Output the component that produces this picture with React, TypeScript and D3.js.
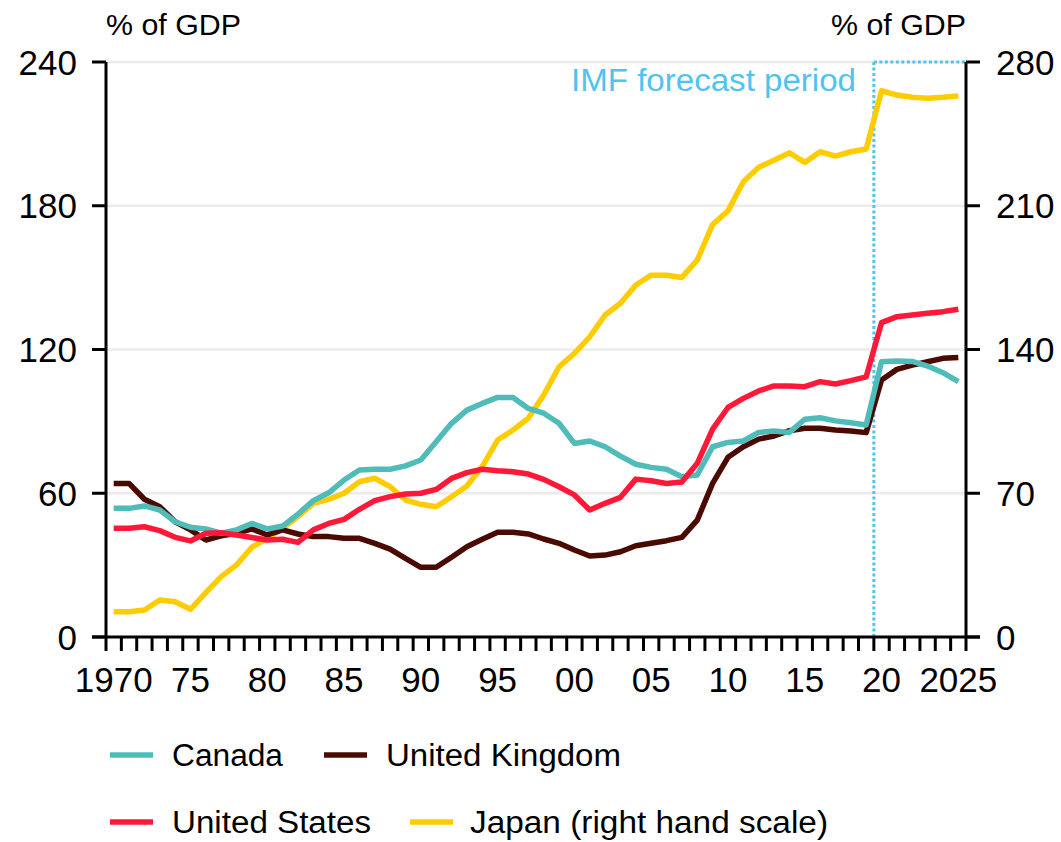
import React from "react";
import * as d3 from "d3";

const years: number[] = Array.from({ length: 56 }, (_, i) => 1970 + i);

const canada: number[] = [
  53.7, 53.7, 54.7, 53.0, 48.1, 45.8, 45.1, 43.3, 44.7, 47.4,
  45.1, 46.3, 51.3, 56.9, 60.2, 65.5, 69.7, 70.0, 70.0, 71.4,
  73.9, 81.5, 89.2, 94.7, 97.5, 100.0, 100.0, 95.4, 93.4, 89.2,
  80.8, 81.8, 79.4, 75.5, 72.1, 70.8, 70.0, 66.9, 67.6, 79.4,
  81.2, 81.8, 85.4, 86.0, 85.4, 90.9, 91.5, 90.2, 89.4, 88.5,
  114.9, 115.2, 115.0, 113.1, 110.3, 106.6,
];

const unitedStates: number[] = [
  45.4, 45.4, 46.0, 44.4, 41.6, 40.1, 43.3, 43.5, 42.6, 41.5,
  40.5, 40.8, 39.5, 44.7, 47.4, 49.1, 53.3, 56.9, 58.6, 59.7,
  60.0, 61.6, 66.2, 68.6, 70.0, 69.4, 69.0, 68.0, 65.8, 62.7,
  59.3, 53.0, 55.8, 58.3, 65.9, 65.2, 64.1, 64.7, 72.5, 86.8,
  95.8, 99.6, 102.7, 104.8, 104.8, 104.5, 106.6, 105.6, 107.0, 108.6,
  131.2, 133.7, 134.4, 135.1, 135.8, 136.8,
];

const unitedKingdom: number[] = [
  64.1, 64.1, 57.5, 54.4, 48.1, 44.7, 40.5, 42.2, 43.3, 45.1,
  42.6, 44.7, 43.0, 41.9, 41.9, 41.2, 41.2, 39.1, 36.7, 32.8,
  29.1, 29.1, 33.3, 37.7, 40.8, 43.7, 43.7, 43.0, 40.9, 39.1,
  36.3, 33.8, 34.2, 35.6, 38.1, 39.1, 40.2, 41.6, 48.8, 64.1,
  75.0, 79.4, 82.6, 83.9, 86.1, 87.1, 87.1, 86.4, 86.0, 85.3,
  107.3, 111.7, 113.5, 114.9, 116.3, 116.7,
];

const japan: number[] = [
  12.3, 12.3, 13.1, 18.0, 17.2, 13.5, 21.6, 29.4, 35.1, 43.7,
  48.0, 52.9, 58.6, 65.1, 67.0, 70.0, 75.6, 77.3, 73.2, 66.7,
  64.6, 63.4, 68.3, 73.5, 83.0, 95.9, 100.8, 106.5, 117.8, 131.6,
  138.1, 146.2, 156.8, 162.5, 171.4, 176.2, 176.2, 175.1, 183.5, 200.9,
  207.5, 221.7, 228.7, 232.2, 235.8, 231.1, 236.3, 234.2, 236.3, 237.6,
  266.0, 263.9, 262.8, 262.4, 262.8, 263.5,
];

const leftTicks: number[] = [0, 60, 120, 180, 240];
const rightTicks: number[] = [0, 70, 140, 210, 280];
const xLabelYears: number[] = [1970, 1975, 1980, 1985, 1990, 1995, 2000, 2005, 2010, 2015, 2020, 2025];
const xLabels: string[] = ["1970", "75", "80", "85", "90", "95", "00", "05", "10", "15", "20", "2025"];
const forecastStart = 2020;

const COLORS = {
  canada: "#4FBCBA",
  us: "#FF1838",
  uk: "#4A0A00",
  japan: "#FFCC00",
  imf: "#4FC4F0",
  grid: "#EBEBEB",
};

const FONT = "'Liberation Sans', Arial, sans-serif";

export default function App() {
  const W = 1061;
  const H = 842;
  const left = 106;
  const right = 966;
  const top = 62;
  const bottom = 637;

  const x = d3.scaleBand<number>().domain(years).range([left, right]).paddingInner(0).paddingOuter(0);
  const bw = x.bandwidth();
  const cx = (yr: number) => (x(yr) as number) + bw / 2;
  const yL = d3.scaleLinear().domain([0, 240]).range([bottom, top]);
  const yR = d3.scaleLinear().domain([0, 280]).range([bottom, top]);

  const mk = (vals: number[], sc: d3.ScaleLinear<number, number>) =>
    d3
      .line<number>()
      .x((_, i) => cx(years[i]))
      .y((v) => sc(v))(vals) as string;

  const series = [
    { key: "japan", vals: japan, sc: yR, color: COLORS.japan },
    { key: "uk", vals: unitedKingdom, sc: yL, color: COLORS.uk },
    { key: "canada", vals: canada, sc: yL, color: COLORS.canada },
    { key: "us", vals: unitedStates, sc: yL, color: COLORS.us },
  ];

  const boundaries = years.map((yr) => x(yr) as number).concat([right]);
  const fx = x(forecastStart) as number;

  const legend = [
    { label: "Canada", color: COLORS.canada, sx: 110, tx: 172, y: 755, len: 111 },
    { label: "United Kingdom", color: COLORS.uk, sx: 324, tx: 386, y: 755, len: 235 },
    { label: "United States", color: COLORS.us, sx: 110, tx: 172, y: 822, len: 199 },
    { label: "Japan (right hand scale)", color: COLORS.japan, sx: 410, tx: 470, y: 822, len: 358 },
  ];

  return (
    <svg
      width={W}
      height={H}
      style={{ position: "absolute", left: 0, top: 0, background: "#fff" }}
      fontFamily={FONT}
    >
      <rect x={0} y={0} width={W} height={H} fill="#fff" />
      {leftTicks
        .filter((t) => t > 0)
        .map((t) => (
          <line key={"g" + t} x1={left} x2={right} y1={yL(t)} y2={yL(t)} stroke={COLORS.grid} strokeWidth={2.5} />
        ))}

      <line x1={fx} x2={fx} y1={top} y2={bottom} stroke={COLORS.imf} strokeWidth={3} strokeDasharray="3,2.5" />
      <line x1={fx} x2={right} y1={top} y2={top} stroke={COLORS.imf} strokeWidth={3} strokeDasharray="3,2.5" />
      <text x={856} y={91} textAnchor="end" fontSize={31} fill={COLORS.imf} textLength={285} lengthAdjust="spacingAndGlyphs">
        IMF forecast period
      </text>

      {series.map((s) => (
        <path
          key={s.key}
          d={mk(s.vals, s.sc)}
          fill="none"
          stroke={s.color}
          strokeWidth={5.5}
          strokeLinejoin="round"
        />
      ))}

      <line x1={left} x2={left} y1={top} y2={bottom} stroke="#000" strokeWidth={3} />
      <line x1={right} x2={right} y1={top} y2={bottom} stroke="#000" strokeWidth={3} />
      <line x1={left - 14} x2={right + 14} y1={bottom} y2={bottom} stroke="#000" strokeWidth={3} />
      {leftTicks.map((t) => (
        <g key={"l" + t}>
          <line x1={left - 14} x2={left} y1={yL(t)} y2={yL(t)} stroke="#000" strokeWidth={3} />
          <text x={77} y={yL(t)} dy="0.36em" textAnchor="end" fontSize={35} fill="#000">
            {t}
          </text>
        </g>
      ))}
      {rightTicks.map((t) => (
        <g key={"r" + t}>
          <line x1={right} x2={right + 14} y1={yR(t)} y2={yR(t)} stroke="#000" strokeWidth={3} />
          <text x={996} y={yR(t)} dy="0.36em" textAnchor="start" fontSize={35} fill="#000">
            {t}
          </text>
        </g>
      ))}
      {boundaries.map((b, i) => (
        <line key={"xt" + i} x1={b} x2={b} y1={bottom} y2={bottom + 14} stroke="#000" strokeWidth={3} />
      ))}
      {xLabelYears.map((yr, i) => (
        <text key={"xl" + yr} x={cx(yr)} y={692} textAnchor="middle" fontSize={35} fill="#000">
          {xLabels[i]}
        </text>
      ))}

      <text x={106} y={35} fontSize={30} fill="#000" textLength={135} lengthAdjust="spacingAndGlyphs">
        % of GDP
      </text>
      <text x={966} y={35} textAnchor="end" fontSize={30} fill="#000" textLength={135} lengthAdjust="spacingAndGlyphs">
        % of GDP
      </text>

      {legend.map((l) => (
        <g key={l.label}>
          <line x1={l.sx} x2={l.sx + 43} y1={l.y} y2={l.y} stroke={l.color} strokeWidth={5.5} />
          <text x={l.tx} y={l.y} dy="0.36em" fontSize={31} fill="#000" textLength={l.len} lengthAdjust="spacingAndGlyphs">
            {l.label}
          </text>
        </g>
      ))}
    </svg>
  );
}
